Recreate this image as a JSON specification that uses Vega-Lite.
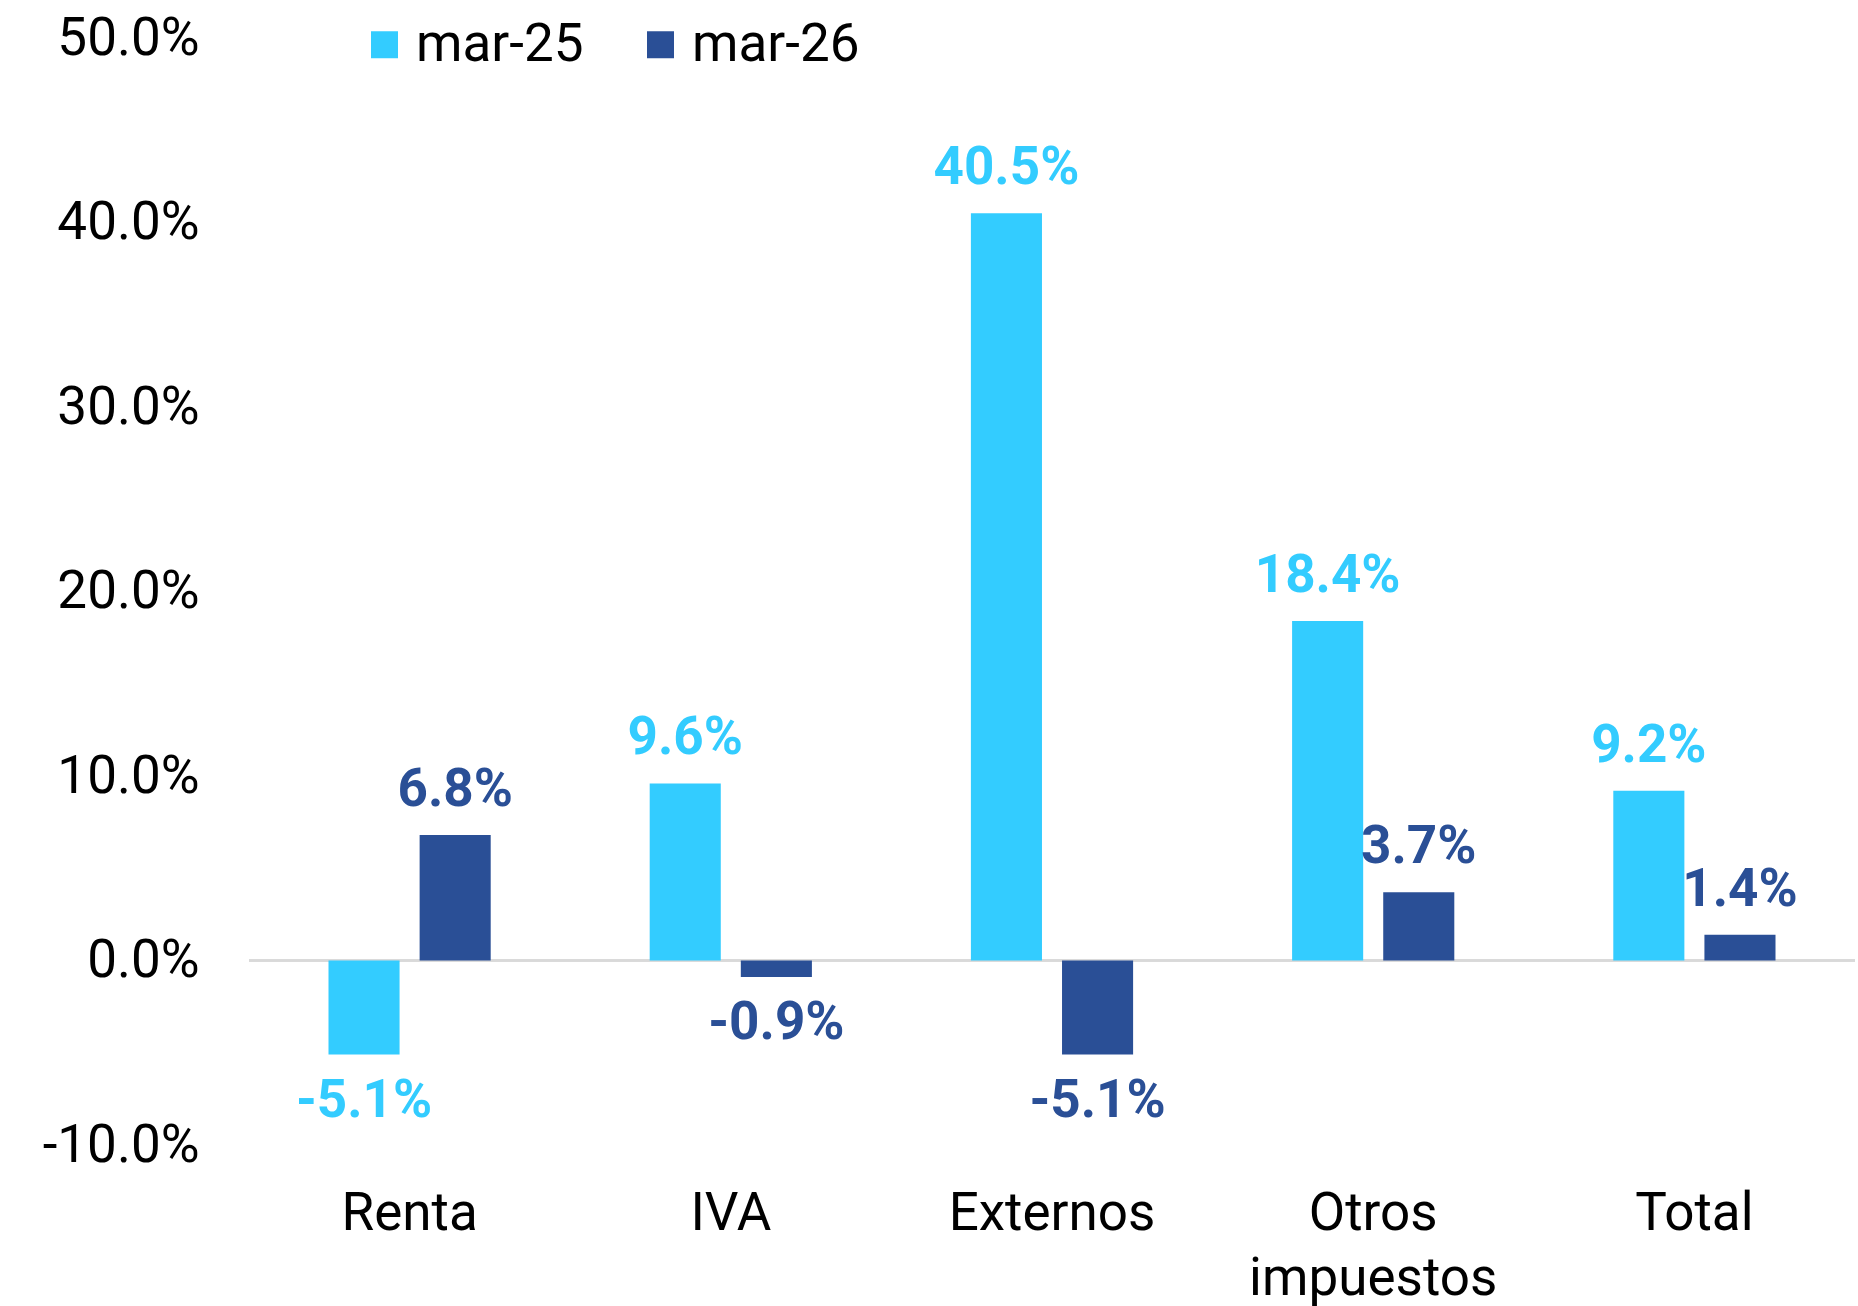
{
  "$schema": "https://vega.github.io/schema/vega-lite/v6.json",
  "width": 1606,
  "height": 1107,
  "autosize": {"type": "none"},
  "padding": {"left": 249, "top": 38, "right": 3, "bottom": 161},
  "background": "white",
  "config": {
    "view": {"stroke": null},
    "font": "Roboto",
    "axis": {"grid": false, "domain": false, "ticks": false, "labelFont": "Roboto", "labelFontSize": 53, "labelColor": "#000000", "labelLimit": 0}
  },
  "data": {
    "values": [
      {"categoria": "Renta", "serie": "mar-25", "valor": -0.051},
      {"categoria": "Renta", "serie": "mar-26", "valor": 0.068},
      {"categoria": "IVA", "serie": "mar-25", "valor": 0.096},
      {"categoria": "IVA", "serie": "mar-26", "valor": -0.009},
      {"categoria": "Externos", "serie": "mar-25", "valor": 0.405},
      {"categoria": "Externos", "serie": "mar-26", "valor": -0.051},
      {"categoria": "Otros impuestos", "serie": "mar-25", "valor": 0.184},
      {"categoria": "Otros impuestos", "serie": "mar-26", "valor": 0.037},
      {"categoria": "Total", "serie": "mar-25", "valor": 0.092},
      {"categoria": "Total", "serie": "mar-26", "valor": 0.014}
    ]
  },
  "encoding": {
    "x": {
      "field": "categoria", "type": "nominal", "sort": null, "title": null,
      "scale": {"paddingInner": 0.495, "paddingOuter": 0.2475},
      "axis": {"labelAngle": 0, "labelPadding": 42, "labelLineHeight": 65,
               "labelExpr": "datum.label == 'Otros impuestos' ? ['Otros', 'impuestos'] : datum.label"}
    },
    "xOffset": {"field": "serie", "type": "nominal", "scale": {"paddingInner": 0.22, "paddingOuter": 0}},
    "y": {
      "field": "valor", "type": "quantitative", "title": null,
      "scale": {"domain": [-0.1, 0.5], "nice": false, "zero": false},
      "axis": {"values": [-0.1, 0, 0.1, 0.2, 0.3, 0.4, 0.5], "labelPadding": 50,
               "labelExpr": "replace(format(datum.value, '.1%'), '\u2212', '-')"}
    }
  },
  "layer": [
    {
      "mark": {"type": "rule", "color": "#D9D9D9", "strokeWidth": 2},
      "encoding": {"y": {"datum": 0}, "x": null, "xOffset": null}
    },
    {
      "mark": {"type": "bar"},
      "encoding": {
        "color": {
          "field": "serie", "type": "nominal",
          "scale": {"domain": ["mar-25", "mar-26"], "range": ["#33CCFF", "#2A4F96"]},
          "legend": {
            "title": null, "orient": "none", "direction": "horizontal",
            "legendX": 109, "legendY": -20,
            "symbolType": "square", "symbolSize": 729, "symbolStrokeWidth": 0,
            "labelFont": "Roboto", "labelFontSize": 53, "labelColor": "#000000", "labelLimit": 0,
            "labelOffset": 5, "columnPadding": 50
          }
        }
      }
    },
    {
      "transform": [{"filter": "datum.valor >= 0"}],
      "mark": {"type": "text", "fontWeight": "bold", "fontSize": 53, "baseline": "alphabetic", "dy": -29,
               "text": {"expr": "replace(format(datum.valor, '.1%'), '\u2212', '-')"}},
      "encoding": {
        "color": {"field": "serie", "type": "nominal", "legend": null}
      }
    },
    {
      "transform": [{"filter": "datum.valor < 0"}],
      "mark": {"type": "text", "fontWeight": "bold", "fontSize": 53, "baseline": "top", "dy": 20,
               "text": {"expr": "replace(format(datum.valor, '.1%'), '\u2212', '-')"}},
      "encoding": {
        "color": {"field": "serie", "type": "nominal", "legend": null}
      }
    }
  ]
}
